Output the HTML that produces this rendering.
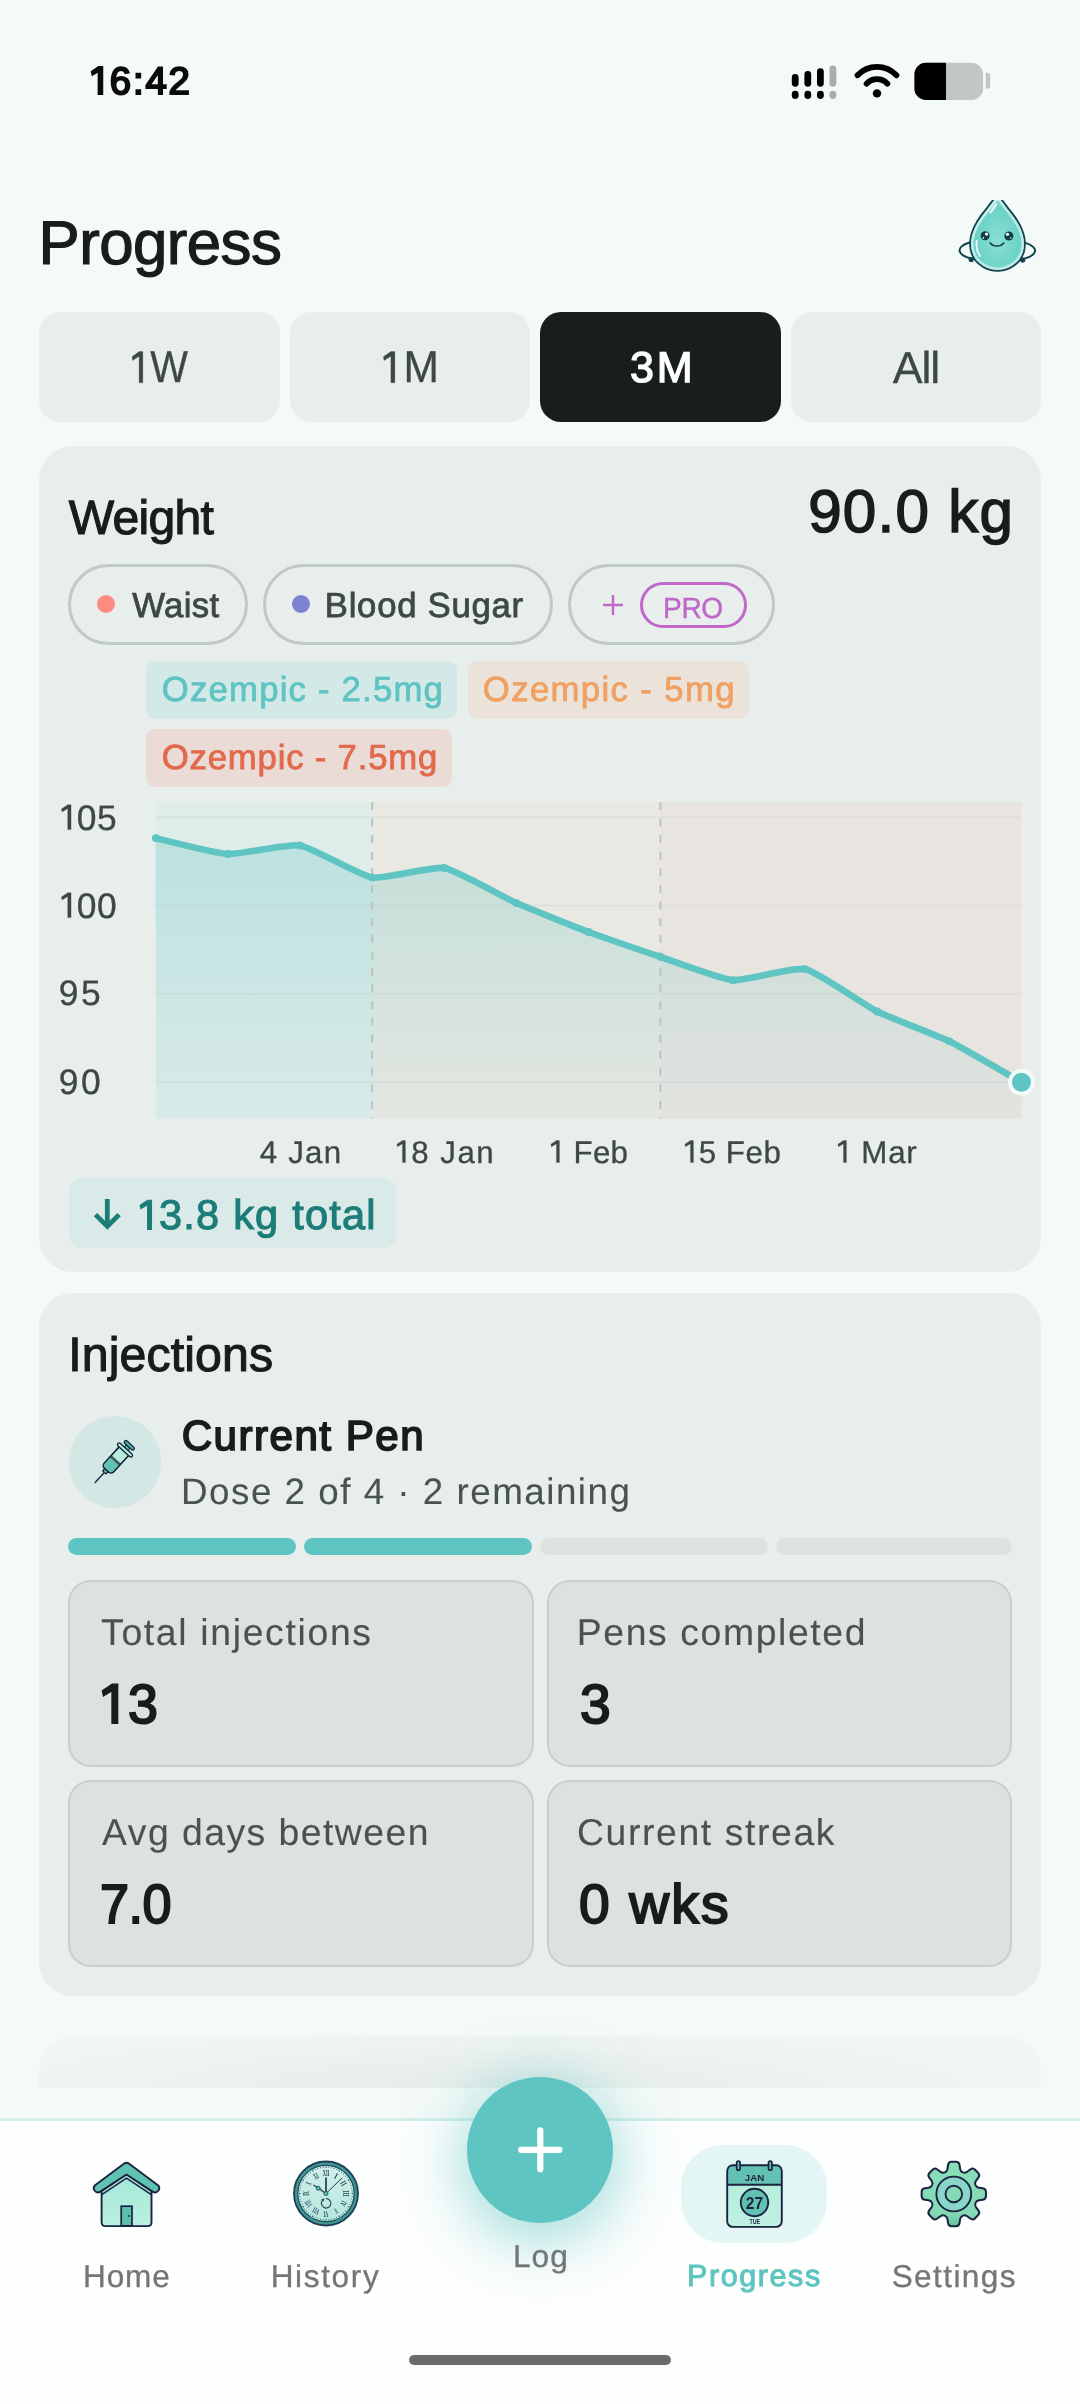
<!DOCTYPE html>
<html><head><meta charset="utf-8"><title>Progress</title>
<style>
html,body{margin:0;padding:0}
body{width:1080px;height:2404px;position:relative;overflow:hidden;background:#f4faf8;font-family:"Liberation Sans",sans-serif}
.abs{position:absolute}
.t{position:absolute;white-space:nowrap;line-height:1;font-family:"Liberation Sans",sans-serif;text-rendering:geometricPrecision}
.chip{top:563.6px;height:81.6px;box-sizing:border-box;border:3px solid #bfc9c6;border-radius:41px}
.stat{box-sizing:border-box;background:#dde2e0;border:2px solid #c6cfcc;border-radius:23px}
</style></head><body><div id="root" style="position:absolute;left:0;top:0;width:1080px;height:2404px;will-change:transform">
<svg class="abs" style="left:780px;top:50px" width="220" height="60" viewBox="780 50 220 60">
<rect x="791.8" y="74" width="6.8" height="12.700000000000003" rx="3.4" fill="#000"/><rect x="791.8" y="90.7" width="6.8" height="8.2" rx="3.4" fill="#000"/><rect x="804.4" y="71" width="6.8" height="15.700000000000003" rx="3.4" fill="#000"/><rect x="804.4" y="90.7" width="6.8" height="8.2" rx="3.4" fill="#000"/><rect x="817" y="68.3" width="6.8" height="18.400000000000006" rx="3.4" fill="#000"/><rect x="817" y="90.7" width="6.8" height="8.2" rx="3.4" fill="#000"/><rect x="829.5" y="65.5" width="6.8" height="21.200000000000003" rx="3.4" fill="#aaadab"/><rect x="829.5" y="90.7" width="6.8" height="8.2" rx="3.4" fill="#aaadab"/>
<path d="M857.55,75.26 A26.6,26.6 0 0 1 896.45,75.26" stroke="#000" stroke-width="5.8" fill="none" stroke-linecap="round"/>
<path d="M866.61,83.72 A14.2,14.2 0 0 1 887.39,83.72" stroke="#000" stroke-width="5.8" fill="none" stroke-linecap="round"/>
<circle cx="877" cy="93.4" r="4.2" fill="#000"/>
<clipPath id="bc"><rect x="914.4" y="62.8" width="68.7" height="37.1" rx="11.5"/></clipPath>
<g clip-path="url(#bc)"><rect x="914" y="62" width="70" height="39" fill="#c2c6c4"/><rect x="914" y="62" width="32" height="39" fill="#000"/></g>
<path d="M985.7 72.8h1.2a3.3 3.3 0 0 1 3.3 3.3v9.3a3.3 3.3 0 0 1 -3.3 3.3h-1.2z" fill="#c2c6c4"/>
</svg>
<svg class="abs" style="left:950px;top:190px" width="95" height="90" viewBox="0 0 95 90">
<defs>
<radialGradient id="mg" cx="0.5" cy="0.6" r="0.6"><stop offset="0" stop-color="#8adfd2"/><stop offset="0.7" stop-color="#68d3c6"/><stop offset="1" stop-color="#7fdad0"/></radialGradient>
<linearGradient id="mr" x1="0" y1="0" x2="1" y2="1"><stop offset="0" stop-color="#e9f7f5"/><stop offset="0.5" stop-color="#c9ecea"/><stop offset="1" stop-color="#d9efe9"/></linearGradient>
<clipPath id="mc"><rect x="0" y="10.1" width="95" height="80"/></clipPath>
<filter id="mb" x="-20%" y="-20%" width="140%" height="140%"><feGaussianBlur stdDeviation="0.7"/></filter>
</defs>
<g clip-path="url(#mc)">
<path d="M19.6 52.5C12 54.5 8.7 58.5 9.8 61.6C11 65 16 67.3 21.6 68.6" fill="none" stroke="#114450" stroke-width="2" stroke-linecap="round"/>
<path d="M75.4 52.9C83 55 85.9 59 84.8 62C83.6 65.4 78.5 67.6 72.6 69" fill="none" stroke="#114450" stroke-width="2" stroke-linecap="round"/>
<path d="M47.50,4.30 C48.95,6.21 50.22,7.88 51.90,10.10 C53.58,12.32 55.52,14.88 57.60,17.60 C59.68,20.32 62.37,23.47 64.40,26.40 C66.43,29.33 68.30,32.27 69.80,35.20 C71.30,38.13 72.57,41.07 73.40,44.00 C74.23,46.93 74.73,49.87 74.80,52.80 C74.87,55.73 74.68,58.67 73.80,61.60 C72.92,64.53 71.45,67.90 69.50,70.40 C67.55,72.90 64.52,75.03 62.10,76.60 C59.68,78.17 57.43,79.10 55.00,79.80 C52.57,80.50 50.00,80.80 47.50,80.80 C45.00,80.80 42.43,80.50 40.00,79.80 C37.57,79.10 35.32,78.17 32.90,76.60 C30.48,75.03 27.45,72.90 25.50,70.40 C23.55,67.90 22.08,64.53 21.20,61.60 C20.32,58.67 20.13,55.73 20.20,52.80 C20.27,49.87 20.77,46.93 21.60,44.00 C22.43,41.07 23.70,38.13 25.20,35.20 C26.70,32.27 28.57,29.33 30.60,26.40 C32.63,23.47 35.32,20.32 37.40,17.60 C39.48,14.88 41.42,12.32 43.10,10.10 C44.78,7.88 46.05,6.21 47.50,4.30Z" fill="url(#mg)" stroke="#114450" stroke-width="2" stroke-linejoin="round"/>
<path d="M47.50,8.03 C48.84,9.80 50.01,11.34 51.57,13.39 C53.13,15.44 54.92,17.82 56.84,20.33 C58.77,22.84 61.25,25.76 63.13,28.47 C65.01,31.18 66.74,33.90 68.13,36.61 C69.52,39.32 70.69,42.04 71.46,44.75 C72.23,47.46 72.69,50.18 72.75,52.89 C72.81,55.60 72.64,58.32 71.83,61.03 C71.01,63.74 69.65,66.86 67.85,69.17 C66.05,71.48 63.24,73.46 61.01,74.90 C58.77,76.35 56.69,77.22 54.44,77.86 C52.19,78.51 49.81,78.79 47.50,78.79 C45.19,78.79 42.81,78.51 40.56,77.86 C38.31,77.22 36.23,76.35 33.99,74.90 C31.76,73.46 28.95,71.48 27.15,69.17 C25.35,66.86 23.99,63.74 23.17,61.03 C22.36,58.32 22.19,55.60 22.25,52.89 C22.31,50.18 22.77,47.46 23.54,44.75 C24.31,42.04 25.48,39.32 26.87,36.61 C28.26,33.90 29.99,31.18 31.87,28.47 C33.75,25.76 36.23,22.84 38.16,20.33 C40.08,17.82 41.87,15.44 43.43,13.39 C44.99,11.34 46.16,9.80 47.50,8.03Z" fill="none" stroke="url(#mr)" stroke-opacity="0.85" stroke-width="2.6" filter="url(#mb)"/>
<path d="M26.6 50.5C26 57 27.4 62.5 30.2 66.2" fill="none" stroke="#f6fefd" stroke-width="1.7" stroke-linecap="round" stroke-opacity="0.95"/>
<path d="M46.3 14.2C44.3 17.2 42.5 20 40.5 22.5" fill="none" stroke="#f6fefd" stroke-width="2.4" stroke-linecap="round" stroke-opacity="0.8"/>
<circle cx="21.2" cy="69.6" r="2.6" fill="#114450"/><circle cx="72.7" cy="70" r="2.6" fill="#114450"/>
<circle cx="35.1" cy="45.8" r="4.5" fill="#123c48"/><circle cx="58.9" cy="46" r="4.5" fill="#123c48"/>
<circle cx="36.6" cy="44.1" r="1.6" fill="#fff"/><circle cx="33.3" cy="47.9" r="0.8" fill="#e8fffb"/>
<circle cx="57.5" cy="44.3" r="1.6" fill="#fff"/><circle cx="60.7" cy="48" r="0.8" fill="#e8fffb"/>
<path d="M40.1 52.9C43.5 56.9 50.5 57 53.8 53" fill="none" stroke="#123c48" stroke-width="1.5" stroke-linecap="round"/>
</g></svg>
<div class="abs" style="left:39px;top:312px;width:241px;height:109.5px;border-radius:21px;background:#e8eeec"></div><div class="abs" style="left:290px;top:312px;width:240px;height:109.5px;border-radius:21px;background:#e8eeec"></div><div class="abs" style="left:540px;top:312px;width:241px;height:109.5px;border-radius:21px;background:#181d1d"></div><div class="abs" style="left:790.5px;top:312px;width:250.5px;height:109.5px;border-radius:21px;background:#e8eeec"></div>
<div class="abs" style="left:39px;top:446px;width:1002px;height:826px;border-radius:34px;background:#e8eeec"></div>
<div class="abs chip" style="left:68.3px;width:180.0px"></div><div class="abs chip" style="left:263.3px;width:289.7px"></div><div class="abs chip" style="left:567.5px;width:207.0px"></div>
<div class="abs" style="left:106px;top:604.3px;width:18px;height:18px;margin:-9px 0 0 -9px;border-radius:50%;background:#ff8a7f"></div>
<div class="abs" style="left:300.7px;top:604.3px;width:18px;height:18px;margin:-9px 0 0 -9px;border-radius:50%;background:#7d83d0"></div>
<svg class="abs" style="left:600px;top:592px" width="26" height="26" viewBox="0 0 26 26"><path d="M3 13H23M13 3V23" stroke="#c067c8" stroke-width="2.4" fill="none"/></svg>
<div class="abs" style="left:640px;top:582px;width:106.5px;height:45.5px;box-sizing:border-box;border:3px solid #c067c8;border-radius:23px"></div>
<div class="abs" style="left:146px;top:660.7px;width:311px;height:58px;border-radius:9px;background:#d3e9e7"></div><div class="abs" style="left:467.8px;top:660.7px;width:281.2px;height:58px;border-radius:9px;background:#ebe3da"></div><div class="abs" style="left:146px;top:728.8px;width:305.8px;height:58px;border-radius:9px;background:#eadbd7"></div>
<svg class="abs" style="left:0;top:790px" width="1080" height="340" viewBox="0 790 1080 340">
<defs><linearGradient id="ga" x1="0" y1="802" x2="0" y2="1118.6" gradientUnits="userSpaceOnUse"><stop offset="0" stop-color="#5ec5c2" stop-opacity="0.30"/><stop offset="1" stop-color="#5ec5c2" stop-opacity="0.04"/></linearGradient></defs>
<rect x="155.8" y="802" width="216.39999999999998" height="316.5999999999999" fill="#deecea"/>
<rect x="372.2" y="802" width="288.2" height="316.5999999999999" fill="#e9e8e2"/>
<rect x="660.4" y="802" width="361.1" height="316.5999999999999" fill="#e8e4e0"/>
<line x1="155.8" x2="1021.5" y1="817.4" y2="817.4" stroke="#000" stroke-opacity="0.045" stroke-width="1.6"/><line x1="155.8" x2="1021.5" y1="905.5" y2="905.5" stroke="#000" stroke-opacity="0.045" stroke-width="1.6"/><line x1="155.8" x2="1021.5" y1="993.7" y2="993.7" stroke="#000" stroke-opacity="0.045" stroke-width="1.6"/><line x1="155.8" x2="1021.5" y1="1082.2" y2="1082.2" stroke="#000" stroke-opacity="0.045" stroke-width="1.6"/>
<path d="M155.8,838.1 C155.8,838.1 216.4,853.4 227.9,854.0 C239.5,854.6 288.5,843.5 300.1,845.4 C311.6,847.3 360.7,875.8 372.2,877.6 C383.8,879.4 432.8,866.0 444.4,868.0 C455.9,870.0 505.0,898.0 516.5,903.1 C528.1,908.2 577.1,927.7 588.7,932.0 C600.2,936.3 649.2,953.1 660.8,957.0 C672.3,960.9 721.4,979.2 732.9,980.2 C744.5,981.2 793.5,966.6 805.1,969.1 C816.6,971.6 865.7,1005.7 877.2,1011.5 C888.8,1017.3 937.8,1035.6 949.4,1041.3 C960.9,1047.0 1015.7,1078.9 1021.5,1082.2 L1021.5,1118.6 L155.8,1118.6 Z" fill="url(#ga)"/>
<line x1="372.2" x2="372.2" y1="802" y2="1118.6" stroke="#b9c3c0" stroke-width="2" stroke-dasharray="8 8.6"/>
<line x1="660.4" x2="660.4" y1="802" y2="1118.6" stroke="#b9c3c0" stroke-width="2" stroke-dasharray="8 8.6"/>
<path d="M155.8,838.1 C155.8,838.1 216.4,853.4 227.9,854.0 C239.5,854.6 288.5,843.5 300.1,845.4 C311.6,847.3 360.7,875.8 372.2,877.6 C383.8,879.4 432.8,866.0 444.4,868.0 C455.9,870.0 505.0,898.0 516.5,903.1 C528.1,908.2 577.1,927.7 588.7,932.0 C600.2,936.3 649.2,953.1 660.8,957.0 C672.3,960.9 721.4,979.2 732.9,980.2 C744.5,981.2 793.5,966.6 805.1,969.1 C816.6,971.6 865.7,1005.7 877.2,1011.5 C888.8,1017.3 937.8,1035.6 949.4,1041.3 C960.9,1047.0 1015.7,1078.9 1021.5,1082.2" fill="none" stroke="#5ec5c2" stroke-width="6.6" stroke-linecap="round" stroke-linejoin="round"/>
<circle cx="155.8" cy="838.1" r="3.9" fill="#5ec5c2"/><circle cx="227.9" cy="854.0" r="3.9" fill="#5ec5c2"/><circle cx="300.1" cy="845.4" r="3.9" fill="#5ec5c2"/><circle cx="372.2" cy="877.6" r="3.9" fill="#5ec5c2"/><circle cx="444.4" cy="868.0" r="3.9" fill="#5ec5c2"/><circle cx="516.5" cy="903.1" r="3.9" fill="#5ec5c2"/><circle cx="588.7" cy="932.0" r="3.9" fill="#5ec5c2"/><circle cx="660.8" cy="957.0" r="3.9" fill="#5ec5c2"/><circle cx="732.9" cy="980.2" r="3.9" fill="#5ec5c2"/><circle cx="805.1" cy="969.1" r="3.9" fill="#5ec5c2"/><circle cx="877.2" cy="1011.5" r="3.9" fill="#5ec5c2"/><circle cx="949.4" cy="1041.3" r="3.9" fill="#5ec5c2"/>
<circle cx="1021.5" cy="1082.2" r="11.5" fill="#5ec5c2" stroke="#f4fbfa" stroke-width="4"/>
</svg>
<div class="abs" style="left:68.5px;top:1177.5px;width:327.2px;height:70.5px;border-radius:13px;background:#d9eae8"></div>
<svg class="abs" style="left:90px;top:1195px" width="36" height="40" viewBox="0 0 36 40"><path d="M17.3 4.1V30M5.5 19.6L17.3 31.4L29.1 19.6" stroke="#1c7d78" stroke-width="4.8" fill="none" stroke-linecap="butt" stroke-linejoin="miter"/></svg>
<div class="abs" style="left:39px;top:1292.5px;width:1002px;height:703.5px;border-radius:34px;background:#e8eeec"></div>
<div class="abs" style="left:68.6px;top:1415.7px;width:92px;height:92px;border-radius:50%;background:#d3e7e5"></div>
<svg class="abs" style="left:84px;top:1430px;overflow:visible" width="60" height="64" viewBox="0 0 60 64">
<g transform="translate(11.1,52.5) rotate(-47.4)" stroke="#172138" stroke-width="1.3" stroke-linejoin="round" stroke-linecap="round">
<line x1="0" y1="0" x2="14" y2="0" stroke-width="1.3"/>
<rect x="13.6" y="-2.3" width="3.6" height="4.6" fill="#62c2b2" rx="0.6"/>
<path d="M20.5 -6.4H43V6.4H20.5C18.5 6.4 16.9 4.8 16.9 2.8V-2.8C16.9 -4.8 18.5 -6.4 20.5 -6.4Z" fill="#b6edda"/>
<path d="M20.5 -6.4H29V6.4H20.5C18.5 6.4 16.9 4.8 16.9 2.8V-2.8C16.9 -4.8 18.5 -6.4 20.5 -6.4Z" fill="#62c2b2" stroke="none"/>
<rect x="28.6" y="-6.4" width="2.7" height="12.8" fill="#3f5b5f" stroke="none"/>
<path d="M20.5 -6.4H43V6.4H20.5C18.5 6.4 16.9 4.8 16.9 2.8V-2.8C16.9 -4.8 18.5 -6.4 20.5 -6.4Z" fill="none"/>
<rect x="45.6" y="-2.5" width="3.6" height="5" fill="#5fc4b6" stroke-width="1"/>
<rect x="42.4" y="-9.6" width="3.5" height="19.2" rx="1.75" fill="#b6edda"/>
<rect x="48.8" y="-6.2" width="3.4" height="12.4" rx="1.7" fill="#4fb3a6"/>
</g></svg>
<div class="abs" style="left:68.00px;top:1538px;width:228.4px;height:16.8px;border-radius:9px;background:#5ec5c2"></div><div class="abs" style="left:303.87px;top:1538px;width:228.4px;height:16.8px;border-radius:9px;background:#5ec5c2"></div><div class="abs" style="left:539.74px;top:1538px;width:228.4px;height:16.8px;border-radius:9px;background:#dde2e0"></div><div class="abs" style="left:775.61px;top:1538px;width:235.9px;height:16.8px;border-radius:9px;background:#dde2e0"></div>
<div class="abs stat" style="left:68px;top:1579.8px;width:466px;height:187px"></div><div class="abs stat" style="left:546.5px;top:1579.8px;width:465px;height:187px"></div><div class="abs stat" style="left:68px;top:1779.6px;width:466px;height:187px"></div><div class="abs stat" style="left:546.5px;top:1779.6px;width:465px;height:187px"></div>
<div class="abs" style="left:39px;top:2035.5px;width:1002px;height:52.5px;border-radius:34px 34px 0 0;background:radial-gradient(ellipse 55% 130% at 45% 105%,rgba(226,233,231,0.85) 0%,rgba(234,240,238,0.35) 100%)"></div>
<div class="abs" style="left:0;top:2117.5px;width:1080px;height:287px;background:#fdfefe;border-top:3.2px solid #d3eeec;box-sizing:border-box"></div>
<div class="abs" style="left:680.7px;top:2145.3px;width:146.7px;height:97.7px;border-radius:42px;background:#e3f5f4"></div>
<div class="abs" style="left:467.4px;top:2077.3px;width:145.6px;height:145.6px;border-radius:50%;background:#5ec5c2;box-shadow:0 12px 56px 10px rgba(94,197,194,0.5)"></div>
<svg class="abs" style="left:510px;top:2120px" width="60" height="60" viewBox="0 0 60 60"><path d="M11.1 29.8H49.5M30.3 10.4V49.2" stroke="#fff" stroke-width="6.2" stroke-linecap="round" fill="none"/></svg>
<svg class="abs" style="left:76px;top:2150px" width="100" height="90" viewBox="0 0 100 90">
<defs><linearGradient id="hg" x1="0" y1="0" x2="0" y2="1"><stop offset="0" stop-color="#a3e7d6"/><stop offset="1" stop-color="#bbf0e1"/></linearGradient></defs>
<path d="M25.6 41V72.3Q25.6 76.1 29.4 76.1H71.7Q75.5 76.1 75.5 72.3V41L50.5 24Z" fill="url(#hg)" stroke="#1b2340" stroke-width="1.9" stroke-linejoin="round"/>
<path d="M25.8 44.6L50.5 28.1L75.3 44.6" fill="none" stroke="#1b2340" stroke-width="1.6"/>
<path d="M48.2 13.6Q50.5 12 52.8 13.6L81.6 34.9Q84.6 37.4 82.3 40.7Q80.1 43.6 76.6 41.6L50.5 24.5L24.4 41.6Q20.9 43.6 18.7 40.7Q16.4 37.4 19.4 34.9Z" fill="#5fc3b1" stroke="#1b2340" stroke-width="1.9" stroke-linejoin="round"/>
<rect x="45.2" y="56.2" width="10.8" height="19.6" fill="#5bbdac" stroke="#1b2340" stroke-width="1.7"/>
<circle cx="53" cy="66" r="0.9" fill="#1b2340"/>
</svg>
<svg class="abs" style="left:276px;top:2150px" width="100" height="90" viewBox="0 0 100 90">
<defs><linearGradient id="cg" x1="0" y1="0" x2="0" y2="1"><stop offset="0" stop-color="#d2f0ea"/><stop offset="1" stop-color="#b5e7dc"/></linearGradient></defs>
<circle cx="50" cy="43.5" r="32" fill="#3f9892" stroke="#1f3d57" stroke-width="1.8"/>
<circle cx="50" cy="43.5" r="28.2" fill="url(#cg)" stroke="#1f4a5c" stroke-width="1.2"/>
<circle cx="50.00" cy="17.20" r="0.75" fill="#27506a"/><circle cx="52.75" cy="17.34" r="0.5" fill="#27506a"/><circle cx="55.47" cy="17.77" r="0.5" fill="#27506a"/><circle cx="58.13" cy="18.49" r="0.5" fill="#27506a"/><circle cx="60.70" cy="19.47" r="0.5" fill="#27506a"/><circle cx="63.15" cy="20.72" r="0.75" fill="#27506a"/><circle cx="65.46" cy="22.22" r="0.5" fill="#27506a"/><circle cx="67.60" cy="23.96" r="0.5" fill="#27506a"/><circle cx="69.54" cy="25.90" r="0.5" fill="#27506a"/><circle cx="71.28" cy="28.04" r="0.5" fill="#27506a"/><circle cx="72.78" cy="30.35" r="0.75" fill="#27506a"/><circle cx="74.03" cy="32.80" r="0.5" fill="#27506a"/><circle cx="75.01" cy="35.37" r="0.5" fill="#27506a"/><circle cx="75.73" cy="38.03" r="0.5" fill="#27506a"/><circle cx="76.16" cy="40.75" r="0.5" fill="#27506a"/><circle cx="76.30" cy="43.50" r="0.75" fill="#27506a"/><circle cx="76.16" cy="46.25" r="0.5" fill="#27506a"/><circle cx="75.73" cy="48.97" r="0.5" fill="#27506a"/><circle cx="75.01" cy="51.63" r="0.5" fill="#27506a"/><circle cx="74.03" cy="54.20" r="0.5" fill="#27506a"/><circle cx="72.78" cy="56.65" r="0.75" fill="#27506a"/><circle cx="71.28" cy="58.96" r="0.5" fill="#27506a"/><circle cx="69.54" cy="61.10" r="0.5" fill="#27506a"/><circle cx="67.60" cy="63.04" r="0.5" fill="#27506a"/><circle cx="65.46" cy="64.78" r="0.5" fill="#27506a"/><circle cx="63.15" cy="66.28" r="0.75" fill="#27506a"/><circle cx="60.70" cy="67.53" r="0.5" fill="#27506a"/><circle cx="58.13" cy="68.51" r="0.5" fill="#27506a"/><circle cx="55.47" cy="69.23" r="0.5" fill="#27506a"/><circle cx="52.75" cy="69.66" r="0.5" fill="#27506a"/><circle cx="50.00" cy="69.80" r="0.75" fill="#27506a"/><circle cx="47.25" cy="69.66" r="0.5" fill="#27506a"/><circle cx="44.53" cy="69.23" r="0.5" fill="#27506a"/><circle cx="41.87" cy="68.51" r="0.5" fill="#27506a"/><circle cx="39.30" cy="67.53" r="0.5" fill="#27506a"/><circle cx="36.85" cy="66.28" r="0.75" fill="#27506a"/><circle cx="34.54" cy="64.78" r="0.5" fill="#27506a"/><circle cx="32.40" cy="63.04" r="0.5" fill="#27506a"/><circle cx="30.46" cy="61.10" r="0.5" fill="#27506a"/><circle cx="28.72" cy="58.96" r="0.5" fill="#27506a"/><circle cx="27.22" cy="56.65" r="0.75" fill="#27506a"/><circle cx="25.97" cy="54.20" r="0.5" fill="#27506a"/><circle cx="24.99" cy="51.63" r="0.5" fill="#27506a"/><circle cx="24.27" cy="48.97" r="0.5" fill="#27506a"/><circle cx="23.84" cy="46.25" r="0.5" fill="#27506a"/><circle cx="23.70" cy="43.50" r="0.75" fill="#27506a"/><circle cx="23.84" cy="40.75" r="0.5" fill="#27506a"/><circle cx="24.27" cy="38.03" r="0.5" fill="#27506a"/><circle cx="24.99" cy="35.37" r="0.5" fill="#27506a"/><circle cx="25.97" cy="32.80" r="0.5" fill="#27506a"/><circle cx="27.22" cy="30.35" r="0.75" fill="#27506a"/><circle cx="28.72" cy="28.04" r="0.5" fill="#27506a"/><circle cx="30.46" cy="25.90" r="0.5" fill="#27506a"/><circle cx="32.40" cy="23.96" r="0.5" fill="#27506a"/><circle cx="34.54" cy="22.22" r="0.5" fill="#27506a"/><circle cx="36.85" cy="20.72" r="0.75" fill="#27506a"/><circle cx="39.30" cy="19.47" r="0.5" fill="#27506a"/><circle cx="41.87" cy="18.49" r="0.5" fill="#27506a"/><circle cx="44.53" cy="17.77" r="0.5" fill="#27506a"/><circle cx="47.25" cy="17.34" r="0.5" fill="#27506a"/><text transform="translate(50,43.5) rotate(0) translate(0,-17.3)" text-anchor="middle" font-family="Liberation Serif" font-weight="bold" font-size="8.6" fill="#1f3f5c" textLength="6.6" lengthAdjust="spacingAndGlyphs">XII</text><text transform="translate(50,43.5) rotate(30) translate(0,-17.3)" text-anchor="middle" font-family="Liberation Serif" font-weight="bold" font-size="8.6" fill="#1f3f5c" textLength="2.8" lengthAdjust="spacingAndGlyphs">I</text><text transform="translate(50,43.5) rotate(60) translate(0,-17.3)" text-anchor="middle" font-family="Liberation Serif" font-weight="bold" font-size="8.6" fill="#1f3f5c" textLength="4.7" lengthAdjust="spacingAndGlyphs">II</text><text transform="translate(50,43.5) rotate(90) translate(0,-17.3)" text-anchor="middle" font-family="Liberation Serif" font-weight="bold" font-size="8.6" fill="#1f3f5c" textLength="6.6" lengthAdjust="spacingAndGlyphs">III</text><text transform="translate(50,43.5) rotate(120) translate(0,-17.3)" text-anchor="middle" font-family="Liberation Serif" font-weight="bold" font-size="8.6" fill="#1f3f5c" textLength="4.7" lengthAdjust="spacingAndGlyphs">IV</text><text transform="translate(50,43.5) rotate(150) translate(0,-17.3)" text-anchor="middle" font-family="Liberation Serif" font-weight="bold" font-size="8.6" fill="#1f3f5c" textLength="2.8" lengthAdjust="spacingAndGlyphs">V</text><text transform="translate(50,43.5) rotate(180) translate(0,-17.3)" text-anchor="middle" font-family="Liberation Serif" font-weight="bold" font-size="8.6" fill="#1f3f5c" textLength="4.7" lengthAdjust="spacingAndGlyphs">VI</text><text transform="translate(50,43.5) rotate(210) translate(0,-17.3)" text-anchor="middle" font-family="Liberation Serif" font-weight="bold" font-size="8.6" fill="#1f3f5c" textLength="6.6" lengthAdjust="spacingAndGlyphs">VII</text><text transform="translate(50,43.5) rotate(240) translate(0,-17.3)" text-anchor="middle" font-family="Liberation Serif" font-weight="bold" font-size="8.6" fill="#1f3f5c" textLength="6.6" lengthAdjust="spacingAndGlyphs">VIII</text><text transform="translate(50,43.5) rotate(270) translate(0,-17.3)" text-anchor="middle" font-family="Liberation Serif" font-weight="bold" font-size="8.6" fill="#1f3f5c" textLength="4.7" lengthAdjust="spacingAndGlyphs">IX</text><text transform="translate(50,43.5) rotate(300) translate(0,-17.3)" text-anchor="middle" font-family="Liberation Serif" font-weight="bold" font-size="8.6" fill="#1f3f5c" textLength="2.8" lengthAdjust="spacingAndGlyphs">X</text><text transform="translate(50,43.5) rotate(330) translate(0,-17.3)" text-anchor="middle" font-family="Liberation Serif" font-weight="bold" font-size="8.6" fill="#1f3f5c" textLength="4.7" lengthAdjust="spacingAndGlyphs">XI</text>
<line x1="50" y1="43.5" x2="50" y2="27.5" stroke="#27465f" stroke-width="1.8"/>
<line x1="50" y1="43.5" x2="66" y2="28" stroke="#1f3d57" stroke-width="1"/>
<line x1="50" y1="43.5" x2="37.5" y2="35" stroke="#1f3d57" stroke-width="1.4"/>
<circle cx="42.2" cy="38.3" r="2" fill="#4fb5a8" stroke="#1f3d57" stroke-width="0.8"/>
<circle cx="50" cy="43.5" r="2.1" fill="#4fb5a8" stroke="#1f4a5c" stroke-width="0.8"/>
<path d="M46.6 50.2A4.7 4.7 0 1 0 50 48.6" fill="none" stroke="#27465f" stroke-width="1.2"/>
<path d="M45.2 49.4L48.6 48.2L47.6 51.6Z" fill="#27465f"/>
</svg>
<svg class="abs" style="left:704px;top:2150px" width="100" height="90" viewBox="0 0 100 90">
<defs><linearGradient id="kg" x1="0" y1="0" x2="0" y2="1"><stop offset="0" stop-color="#b0ebd9"/><stop offset="1" stop-color="#c0f1e3"/></linearGradient>
<clipPath id="kc"><rect x="23.2" y="15.3" width="54.6" height="61.6" rx="5.6"/></clipPath></defs>
<g clip-path="url(#kc)"><rect x="22" y="14" width="58" height="65" fill="url(#kg)"/><rect x="22" y="14" width="58" height="20.7" fill="#62c1b1"/></g>
<line x1="23" y1="34.7" x2="78" y2="34.7" stroke="#1b2340" stroke-width="1.9"/>
<rect x="23.2" y="15.3" width="54.6" height="61.6" rx="5.6" fill="none" stroke="#1b2340" stroke-width="1.9"/>
<rect x="32.7" y="11" width="3.4" height="9.2" rx="1.7" fill="#62c1b1" stroke="#1b2340" stroke-width="1.7"/>
<rect x="64.5" y="11" width="3.4" height="9.2" rx="1.7" fill="#62c1b1" stroke="#1b2340" stroke-width="1.7"/>
<text x="50.5" y="30.7" text-anchor="middle" font-family="Liberation Sans" font-weight="bold" font-size="9.4" fill="#1b2340" textLength="19.4" lengthAdjust="spacingAndGlyphs">JAN</text>
<circle cx="50.5" cy="52.5" r="13.7" fill="#62c1b1" stroke="#1b2340" stroke-width="1.9"/>
<text x="50.4" y="58.8" text-anchor="middle" font-family="Liberation Sans" font-weight="bold" font-size="16.8" fill="#1b2340" textLength="17.3" lengthAdjust="spacingAndGlyphs">27</text>
<text x="50.7" y="73.8" text-anchor="middle" font-family="Liberation Sans" font-weight="bold" font-size="6.5" fill="#1b2340" textLength="10.5" lengthAdjust="spacingAndGlyphs">TUE</text>
</svg>
<svg class="abs" style="left:904px;top:2150px" width="100" height="90" viewBox="0 0 100 90">
<defs><linearGradient id="gg" x1="0" y1="0" x2="0" y2="1"><stop offset="0" stop-color="#88deb9"/><stop offset="0.8" stop-color="#84dab4"/><stop offset="1" stop-color="#66c0a2"/></linearGradient></defs>
<path d="M40.91,22.28 Q43.10,21.37 43.48,18.80 L44.06,14.99 Q44.53,11.83 47.73,11.83 L51.87,11.83 Q55.07,11.83 55.54,14.99 L56.12,18.80 Q56.50,21.37 58.69,22.28 L58.87,22.35 Q61.06,23.26 63.15,21.72 L66.25,19.43 Q68.82,17.53 71.09,19.79 L74.01,22.71 Q76.27,24.98 74.37,27.55 L72.08,30.65 Q70.54,32.74 71.45,34.93 L71.52,35.11 Q72.43,37.30 75.00,37.68 L78.81,38.26 Q81.97,38.73 81.97,41.93 L81.97,46.07 Q81.97,49.27 78.81,49.74 L75.00,50.32 Q72.43,50.70 71.52,52.89 L71.45,53.07 Q70.54,55.26 72.08,57.35 L74.37,60.45 Q76.27,63.02 74.01,65.29 L71.09,68.21 Q68.82,70.47 66.25,68.57 L63.15,66.28 Q61.06,64.74 58.87,65.65 L58.69,65.72 Q56.50,66.63 56.12,69.20 L55.54,73.01 Q55.07,76.17 51.87,76.17 L47.73,76.17 Q44.53,76.17 44.06,73.01 L43.48,69.20 Q43.10,66.63 40.91,65.72 L40.73,65.65 Q38.54,64.74 36.45,66.28 L33.35,68.57 Q30.78,70.47 28.51,68.21 L25.59,65.29 Q23.33,63.02 25.23,60.45 L27.52,57.35 Q29.06,55.26 28.15,53.07 L28.08,52.89 Q27.17,50.70 24.60,50.32 L20.79,49.74 Q17.63,49.27 17.63,46.07 L17.63,41.93 Q17.63,38.73 20.79,38.26 L24.60,37.68 Q27.17,37.30 28.08,35.11 L28.15,34.93 Q29.06,32.74 27.52,30.65 L25.23,27.55 Q23.33,24.98 25.59,22.71 L28.51,19.79 Q30.78,17.53 33.35,19.43 L36.45,21.72 Q38.54,23.26 40.73,22.35 Z" fill="url(#gg)" stroke="#1a2340" stroke-width="2" stroke-linejoin="round"/>
<circle cx="49.8" cy="44" r="17.4" fill="#8ad5c9" stroke="#1a2340" stroke-width="1.9"/>
<circle cx="49.8" cy="44" r="8.3" fill="#84dab6" stroke="#1a2340" stroke-width="1.9"/>
</svg>
<div class="abs" style="left:409px;top:2355px;width:262px;height:10px;border-radius:5px;background:#6b6b6b"></div>
<div class="t" style="left:86.60px;top:63.12px;font-size:38.41px;letter-spacing:1.813px;color:#0b0b0b;-webkit-text-stroke:2.0px #0b0b0b;"><svg viewBox="0 0 556 780" style="width:0.556em;height:0.78em;vertical-align:baseline;overflow:visible;margin-right:1.813px"><path d="M303,80 L397,80 L397,780 L303,780 L303,185 L143,280 L125,198Z" fill="#0b0b0b" stroke="#0b0b0b" stroke-width="52.1" stroke-linejoin="miter"/></svg>6:42</div>
<div class="t" style="left:38.60px;top:212.93px;font-size:61.77px;letter-spacing:-0.567px;color:#171c1c;-webkit-text-stroke:1.2px #171c1c;">Progress</div>
<div class="t" style="left:126.97px;top:346.37px;font-size:44.62px;letter-spacing:1.120px;color:#3d4846;-webkit-text-stroke:0.3px #3d4846;transform:scaleX(0.8948);transform-origin:0 0;"><svg viewBox="0 0 556 780" style="width:0.556em;height:0.78em;vertical-align:baseline;overflow:visible;margin-right:1.120px"><path d="M303,80 L397,80 L397,780 L303,780 L303,185 L143,280 L125,198Z" fill="#3d4846" stroke="#3d4846" stroke-width="6.7" stroke-linejoin="miter"/></svg>W</div>
<div class="t" style="left:377.89px;top:346.37px;font-size:44.62px;letter-spacing:2.020px;color:#3d4846;-webkit-text-stroke:0.3px #3d4846;transform:scaleX(0.9528);transform-origin:0 0;"><svg viewBox="0 0 556 780" style="width:0.556em;height:0.78em;vertical-align:baseline;overflow:visible;margin-right:2.020px"><path d="M303,80 L397,80 L397,780 L303,780 L303,185 L143,280 L125,198Z" fill="#3d4846" stroke="#3d4846" stroke-width="6.7" stroke-linejoin="miter"/></svg>M</div>
<div class="t" style="left:630.07px;top:347.13px;font-size:43.1px;letter-spacing:2.683px;color:#ffffff;-webkit-text-stroke:1.35px #ffffff;">3M</div>
<div class="t" style="left:892.85px;top:347.37px;font-size:44.62px;letter-spacing:-1.082px;color:#3d4846;-webkit-text-stroke:0.3px #3d4846;">All</div>
<div class="t" style="left:68.75px;top:494.47px;font-size:48.11px;letter-spacing:-0.759px;color:#171c1c;-webkit-text-stroke:1.1px #171c1c;">Weight</div>
<div class="t" style="left:808.15px;top:482.06px;font-size:60.17px;letter-spacing:1.238px;color:#171c1c;-webkit-text-stroke:1.5px #171c1c;">90.0 kg</div>
<div class="t" style="left:132.30px;top:589.17px;font-size:34.74px;letter-spacing:0.301px;color:#3d4846;-webkit-text-stroke:0.8px #3d4846;">Waist</div>
<div class="t" style="left:324.80px;top:589.17px;font-size:34.74px;letter-spacing:0.719px;color:#3d4846;-webkit-text-stroke:0.8px #3d4846;">Blood Sugar</div>
<div class="t" style="left:663.25px;top:594.81px;font-size:29.14px;letter-spacing:-0.356px;color:#c067c8;-webkit-text-stroke:0.35px #c067c8;transform:scaleX(0.9649);transform-origin:0 0;">PRO</div>
<div class="t" style="left:161.80px;top:673.47px;font-size:34.74px;letter-spacing:1.191px;color:#5fc4c1;-webkit-text-stroke:0.8px #5fc4c1;">Ozempic - 2.5mg</div>
<div class="t" style="left:482.80px;top:673.47px;font-size:34.74px;letter-spacing:1.354px;color:#f0a062;-webkit-text-stroke:0.8px #f0a062;">Ozempic - 5mg</div>
<div class="t" style="left:161.80px;top:741.07px;font-size:34.74px;letter-spacing:0.791px;color:#e2694b;-webkit-text-stroke:0.8px #e2694b;">Ozempic - 7.5mg</div>
<div class="t" style="left:56.65px;top:800.70px;font-size:35.42px;letter-spacing:0.459px;color:#3d4846;-webkit-text-stroke:0.3px #3d4846;"><svg viewBox="0 0 556 780" style="width:0.556em;height:0.78em;vertical-align:baseline;overflow:visible;margin-right:0.459px"><path d="M303,80 L397,80 L397,780 L303,780 L303,185 L143,280 L125,198Z" fill="#3d4846" stroke="#3d4846" stroke-width="8.5" stroke-linejoin="miter"/></svg>05</div>
<div class="t" style="left:56.65px;top:888.70px;font-size:35.42px;letter-spacing:0.459px;color:#3d4846;-webkit-text-stroke:0.3px #3d4846;"><svg viewBox="0 0 556 780" style="width:0.556em;height:0.78em;vertical-align:baseline;overflow:visible;margin-right:0.459px"><path d="M303,80 L397,80 L397,780 L303,780 L303,185 L143,280 L125,198Z" fill="#3d4846" stroke="#3d4846" stroke-width="8.5" stroke-linejoin="miter"/></svg>00</div>
<div class="t" style="left:58.65px;top:976.40px;font-size:35.42px;letter-spacing:2.609px;color:#3d4846;-webkit-text-stroke:0.3px #3d4846;">95</div>
<div class="t" style="left:58.65px;top:1065.40px;font-size:35.42px;letter-spacing:2.609px;color:#3d4846;-webkit-text-stroke:0.3px #3d4846;">90</div>
<div class="t" style="left:259.65px;top:1136.66px;font-size:31.25px;letter-spacing:1.258px;color:#3d4846;-webkit-text-stroke:0.3px #3d4846;">4 Jan</div>
<div class="t" style="left:392.55px;top:1136.66px;font-size:31.25px;letter-spacing:1.451px;color:#3d4846;-webkit-text-stroke:0.3px #3d4846;"><svg viewBox="0 0 556 780" style="width:0.556em;height:0.78em;vertical-align:baseline;overflow:visible;margin-right:1.451px"><path d="M303,80 L397,80 L397,780 L303,780 L303,185 L143,280 L125,198Z" fill="#3d4846" stroke="#3d4846" stroke-width="9.6" stroke-linejoin="miter"/></svg>8 Jan</div>
<div class="t" style="left:546.95px;top:1136.66px;font-size:31.25px;letter-spacing:0.292px;color:#3d4846;-webkit-text-stroke:0.3px #3d4846;"><svg viewBox="0 0 556 780" style="width:0.556em;height:0.78em;vertical-align:baseline;overflow:visible;margin-right:0.292px"><path d="M303,80 L397,80 L397,780 L303,780 L303,185 L143,280 L125,198Z" fill="#3d4846" stroke="#3d4846" stroke-width="9.6" stroke-linejoin="miter"/></svg> Feb</div>
<div class="t" style="left:680.75px;top:1136.66px;font-size:31.25px;letter-spacing:0.558px;color:#3d4846;-webkit-text-stroke:0.3px #3d4846;"><svg viewBox="0 0 556 780" style="width:0.556em;height:0.78em;vertical-align:baseline;overflow:visible;margin-right:0.558px"><path d="M303,80 L397,80 L397,780 L303,780 L303,185 L143,280 L125,198Z" fill="#3d4846" stroke="#3d4846" stroke-width="9.6" stroke-linejoin="miter"/></svg>5 Feb</div>
<div class="t" style="left:833.65px;top:1136.66px;font-size:31.25px;letter-spacing:0.807px;color:#3d4846;-webkit-text-stroke:0.3px #3d4846;"><svg viewBox="0 0 556 780" style="width:0.556em;height:0.78em;vertical-align:baseline;overflow:visible;margin-right:0.807px"><path d="M303,80 L397,80 L397,780 L303,780 L303,185 L143,280 L125,198Z" fill="#3d4846" stroke="#3d4846" stroke-width="9.6" stroke-linejoin="miter"/></svg> Mar</div>
<div class="t" style="left:134.75px;top:1194.12px;font-size:41.54px;letter-spacing:1.205px;color:#1c7d78;-webkit-text-stroke:1.1px #1c7d78;"><svg viewBox="0 0 556 780" style="width:0.556em;height:0.78em;vertical-align:baseline;overflow:visible;margin-right:1.205px"><path d="M303,80 L397,80 L397,780 L303,780 L303,185 L143,280 L125,198Z" fill="#1c7d78" stroke="#1c7d78" stroke-width="26.5" stroke-linejoin="miter"/></svg>3.8 kg total</div>
<div class="t" style="left:68.25px;top:1330.54px;font-size:48.26px;letter-spacing:0.110px;color:#171c1c;-webkit-text-stroke:1.1px #171c1c;">Injections</div>
<div class="t" style="left:181.65px;top:1414.52px;font-size:42.15px;letter-spacing:1.473px;color:#171c1c;-webkit-text-stroke:1.7px #171c1c;">Current Pen</div>
<div class="t" style="left:181.05px;top:1474.28px;font-size:36.77px;letter-spacing:1.502px;color:#485351;-webkit-text-stroke:0.1px #485351;">Dose 2 of 4 · 2 remaining</div>
<div class="t" style="left:101.05px;top:1613.90px;font-size:37.35px;letter-spacing:1.675px;color:#485351;-webkit-text-stroke:0.1px #485351;">Total injections</div>
<div class="t" style="left:576.85px;top:1613.90px;font-size:37.35px;letter-spacing:1.606px;color:#485351;-webkit-text-stroke:0.1px #485351;">Pens completed</div>
<div class="t" style="left:102.05px;top:1813.70px;font-size:37.35px;letter-spacing:1.473px;color:#485351;-webkit-text-stroke:0.1px #485351;">Avg days between</div>
<div class="t" style="left:577.05px;top:1813.70px;font-size:37.35px;letter-spacing:1.606px;color:#485351;-webkit-text-stroke:0.1px #485351;">Current streak</div>
<div class="t" style="left:96.10px;top:1676.99px;font-size:55.19px;letter-spacing:2.138px;color:#171c1c;-webkit-text-stroke:2.0px #171c1c;transform:scaleX(0.9753);transform-origin:0 0;"><svg viewBox="0 0 556 780" style="width:0.556em;height:0.78em;vertical-align:baseline;overflow:visible;margin-right:2.138px"><path d="M303,80 L397,80 L397,780 L303,780 L303,185 L143,280 L125,198Z" fill="#171c1c" stroke="#171c1c" stroke-width="36.2" stroke-linejoin="miter"/></svg>3</div>
<div class="t" style="left:580.00px;top:1676.99px;font-size:55.19px;letter-spacing:0.000px;color:#171c1c;-webkit-text-stroke:2.0px #171c1c;">3</div>
<div class="t" style="left:100.11px;top:1876.79px;font-size:55.19px;letter-spacing:-0.599px;color:#171c1c;-webkit-text-stroke:2.0px #171c1c;transform:scaleX(0.9467);transform-origin:0 0;">7.0</div>
<div class="t" style="left:579.00px;top:1876.79px;font-size:55.19px;letter-spacing:2.132px;color:#171c1c;-webkit-text-stroke:2.0px #171c1c;">0 wks</div>
<div class="t" style="left:83.05px;top:2260.72px;font-size:31.54px;letter-spacing:0.842px;color:#757575;-webkit-text-stroke:0.3px #757575;">Home</div>
<div class="t" style="left:270.65px;top:2260.72px;font-size:31.54px;letter-spacing:1.660px;color:#757575;-webkit-text-stroke:0.3px #757575;">History</div>
<div class="t" style="left:512.95px;top:2240.60px;font-size:31.69px;letter-spacing:0.977px;color:#757575;-webkit-text-stroke:0.3px #757575;">Log</div>
<div class="t" style="left:687.10px;top:2260.57px;font-size:30.52px;letter-spacing:1.564px;color:#5ec4c0;-webkit-text-stroke:1.0px #5ec4c0;">Progress</div>
<div class="t" style="left:891.65px;top:2260.72px;font-size:31.54px;letter-spacing:1.419px;color:#757575;-webkit-text-stroke:0.3px #757575;">Settings</div>
</div></body></html>
